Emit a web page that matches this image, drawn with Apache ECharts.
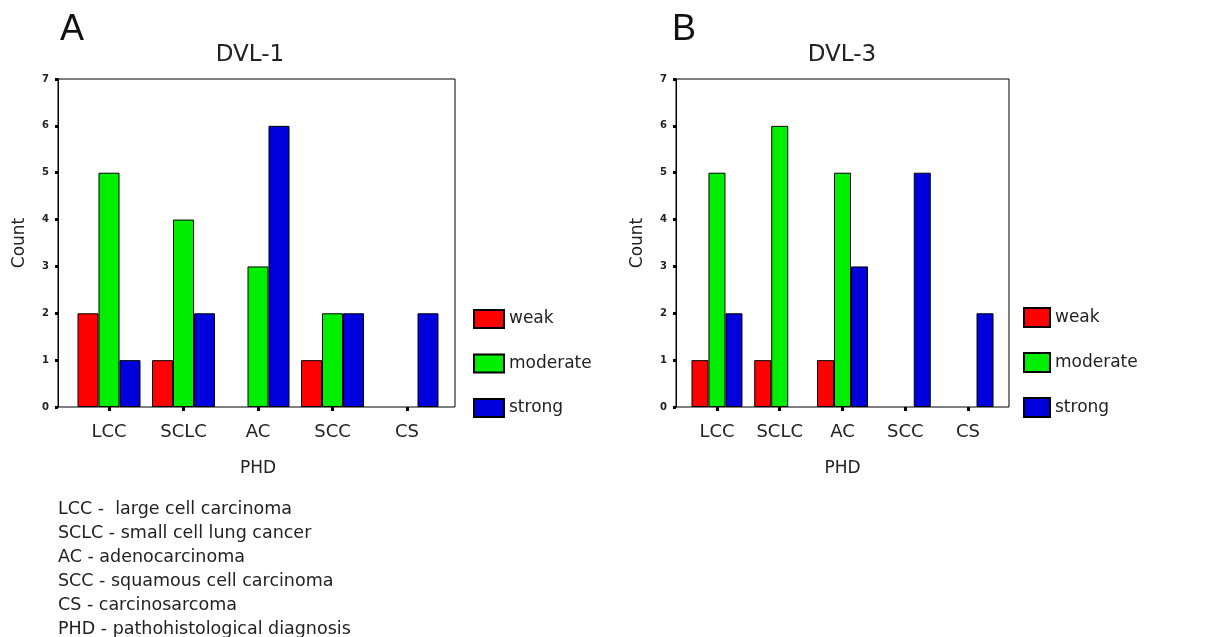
<!DOCTYPE html>
<html>
<head>
<meta charset="utf-8">
<script src="https://cdn.jsdelivr.net/npm/echarts@6/dist/echarts.min.js"></script>
<style>
html,body{margin:0;padding:0;background:#fff;}
#c{width:1227px;height:637px;}
</style>
</head>
<body>
<div id="c"></div>
<script>
// ---- data ----
const categories = ['LCC', 'SCLC', 'AC', 'SCC', 'CS'];
const seriesNames = ['weak', 'moderate', 'strong'];
// DVL-1 (panel A)
const dvl1Weak = [2, 1, 0, 1, 0];
const dvl1Moderate = [5, 4, 3, 2, 0];
const dvl1Strong = [1, 2, 6, 2, 2];
// DVL-3 (panel B)
const dvl3Weak = [1, 1, 1, 0, 0];
const dvl3Moderate = [5, 6, 5, 0, 0];
const dvl3Strong = [2, 0, 3, 5, 2];
const yTicks = [0, 1, 2, 3, 4, 5, 6, 7];
const notes = [
  'LCC -  large cell carcinoma',
  'SCLC - small cell lung cancer',
  'AC - adenocarcinoma',
  'SCC - squamous cell carcinoma',
  'CS - carcinosarcoma',
  'PHD - pathohistological diagnosis'
];

const colors = ['#ff0000', '#00ee00', '#0000dd'];
const FONT = 'DejaVu Sans';

const chart = echarts.init(document.getElementById('c'));

function yAxisFrame(gridIndex) {
  return {
    type: 'value', gridIndex, min: yTicks[0], max: yTicks[yTicks.length - 1], interval: 1,
    name: 'Count', nameLocation: 'middle', nameRotate: 90, nameGap: 30,
    nameTextStyle: { fontFamily: FONT, fontSize: 17, color: '#222' },
    axisLine: { show: true, lineStyle: { color: '#000', width: 1 } },
    axisTick: { show: true, length: 3, lineStyle: { color: '#000', width: 3 } },
    axisLabel: { margin: 9, fontFamily: FONT, fontSize: 10, fontWeight: 'bold', color: '#222' },
    splitLine: { show: false }
  };
}
function yAxisHidden(gridIndex) {
  return {
    type: 'value', gridIndex, min: yTicks[0], max: yTicks[yTicks.length - 1], interval: 1,
    show: false, splitLine: { show: false }
  };
}
function xAxisFrame(gridIndex) {
  return { type: 'value', gridIndex, show: false, min: 0, max: 1, splitLine: { show: false } };
}
function xAxisBars(gridIndex) {
  return {
    type: 'category', gridIndex, data: categories, boundaryGap: true,
    name: 'PHD', nameLocation: 'middle', nameGap: 53,
    nameTextStyle: { fontFamily: FONT, fontSize: 17, color: '#222' },
    axisLine: { show: false },
    axisTick: { show: true, alignWithLabel: true, length: 4, lineStyle: { color: '#000', width: 3 } },
    axisLabel: { margin: 16, fontFamily: FONT, fontSize: 18, color: '#222' },
    splitLine: { show: false }
  };
}
function barSeries(name, values, idx, xAxisIndex, yAxisIndex, width) {
  return {
    type: 'bar', name, xAxisIndex, yAxisIndex,
    data: values.map(v => (v === 0 ? { value: v, itemStyle: { borderWidth: 0 } } : v)),
    barWidth: width, barGap: '0%',
    itemStyle: { color: colors[idx], borderColor: '#000', borderWidth: 1 },
    animation: false
  };
}

const option = {
  animation: false,
  backgroundColor: '#fff',
  grid: [
    { left: 58, top: 79, width: 397, height: 328, show: true, borderColor: '#000', borderWidth: 1, backgroundColor: 'transparent' },
    { left: 71.75, top: 79, width: 372.5, height: 328 },
    { left: 676, top: 79, width: 333, height: 328, show: true, borderColor: '#000', borderWidth: 1, backgroundColor: 'transparent' },
    { left: 685.6, top: 79, width: 313.8, height: 328 }
  ],
  xAxis: [xAxisFrame(0), xAxisBars(1), xAxisFrame(2), xAxisBars(3)],
  yAxis: [yAxisFrame(0), yAxisHidden(1), yAxisFrame(2), yAxisHidden(3)],
  legend: [
    {
      data: seriesNames, orient: 'vertical', left: 468, top: 304,
      itemWidth: 30, itemHeight: 18, itemGap: 24.5, icon: 'rect',
      textStyle: { fontFamily: FONT, fontSize: 17, color: '#222', lineHeight: 18 },
      selectedMode: false
    },
    {
      data: seriesNames, orient: 'vertical', left: 1018, top: 302,
      itemWidth: 26, itemHeight: 19, itemGap: 24, icon: 'rect',
      textStyle: { fontFamily: FONT, fontSize: 17, color: '#222', lineHeight: 19 },
      selectedMode: false
    }
  ],
  series: [
    barSeries('weak', dvl1Weak, 0, 1, 1, 21),
    barSeries('moderate', dvl1Moderate, 1, 1, 1, 21),
    barSeries('strong', dvl1Strong, 2, 1, 1, 21),
    barSeries('weak', dvl3Weak, 0, 3, 3, 17),
    barSeries('moderate', dvl3Moderate, 1, 3, 3, 17),
    barSeries('strong', dvl3Strong, 2, 3, 3, 17)
  ],
  graphic: [
    { type: 'text', left: 60, top: 12, style: { text: 'A', font: '36px "Liberation Sans"', fill: '#111' } },
    { type: 'text', left: 672, top: 12, style: { text: 'B', font: '36px "Liberation Sans"', fill: '#111' } },
    { type: 'text', x: 250, y: 55, style: { text: 'DVL-1', font: '23px "DejaVu Sans"', fill: '#222', textAlign: 'center', textVerticalAlign: 'middle' } },
    { type: 'text', x: 842, y: 55, style: { text: 'DVL-3', font: '23px "DejaVu Sans"', fill: '#222', textAlign: 'center', textVerticalAlign: 'middle' } },
    { type: 'text', left: 58, top: 497, style: { text: notes.join('\n'), font: '17.5px "DejaVu Sans"', fill: '#222', lineHeight: 24 } }
  ]
};
chart.setOption(option);
</script>
</body>
</html>
